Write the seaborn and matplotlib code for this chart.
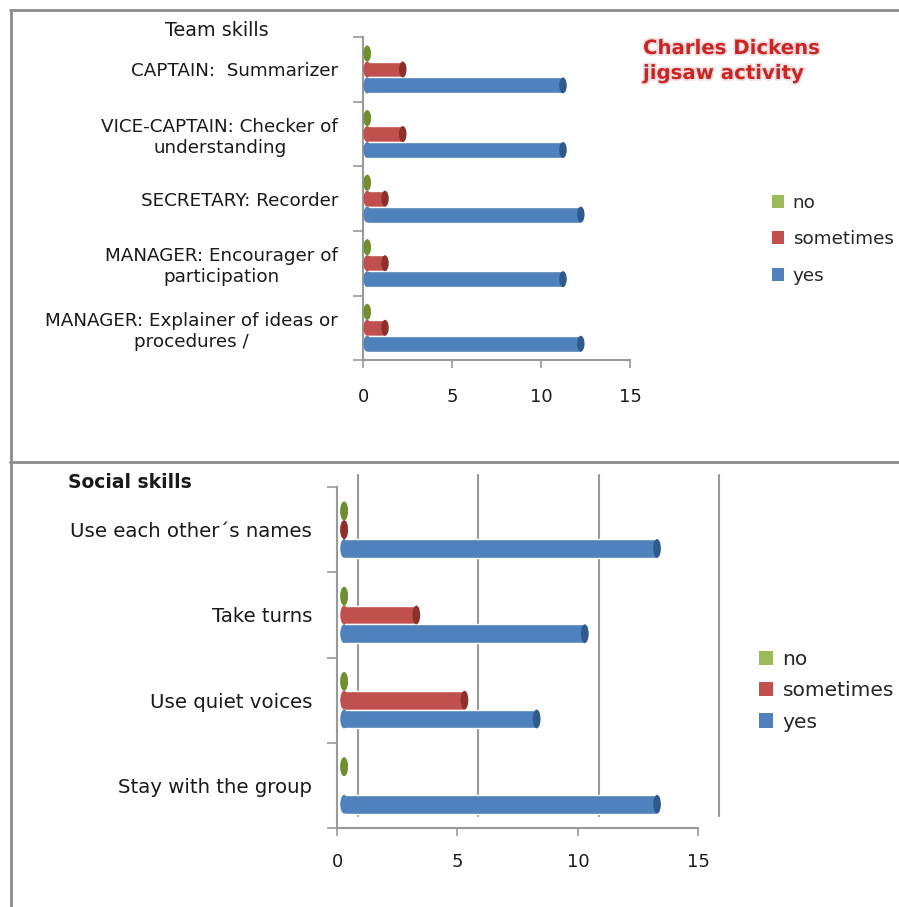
"""
Charles Dickens jigsaw activity - team skills / social skills survey
"""

import matplotlib
matplotlib.use("Agg")
import matplotlib.pyplot as plt
import matplotlib.patheffects as pe
from matplotlib.colors import to_hex
from matplotlib.lines import Line2D
from matplotlib.patches import Ellipse, Patch
from matplotlib.transforms import ScaledTranslation
import seaborn as sns
import numpy as np
import pandas as pd

sns.set_style("white")
plt.rcParams['font.family'] = ['DejaVu Sans']

# ----- data -----
team_roles = [
    "CAPTAIN:  Summarizer",
    "VICE-CAPTAIN: Checker of\nunderstanding",
    "SECRETARY: Recorder",
    "MANAGER: Encourager of\nparticipation",
    "MANAGER: Explainer of ideas or\nprocedures /",
]
team_no = [0, 0, 0, 0, 0]
team_sometimes = [2, 2, 1, 1, 1]
team_yes = [11, 11, 12, 11, 12]

social_skills = [
    "Use each other\u00b4s names",
    "Take turns",
    "Use quiet voices",
    "Stay with the group",
]
social_no = [0, 0, 0, 0]
social_sometimes = [0, 3, 5, np.nan]
social_yes = [13, 10, 8, 13]

answers = ["no", "sometimes", "yes"]
palette = {"no": "#9BBB59", "sometimes": "#C0504D", "yes": "#4F81BD"}
cap_palette = {"#9bbb59": "#6F8F32", "#c0504d": "#8E2F2C", "#4f81bd": "#2E5A8E"}
axis_grey = "#9a9a9a"
text_col = "#1a1a1a"


def to_long(labels, no, sometimes, yes):
    rows = []
    for i, lab in enumerate(labels):
        for ans, vals in zip(answers, [no, sometimes, yes]):
            rows.append({"skill": lab, "answer": ans, "count": vals[i]})
    return pd.DataFrame(rows)


def add_caps(ax, cap_w, depth_px):
    # rounded ends so the bars read like the cylinders of the original,
    # pushed back a little like the 3-D depth of the source chart
    shift = ax.transData + ScaledTranslation(depth_px / 100, 0, fig.dpi_scale_trans)
    for bar in list(ax.patches):
        w = bar.get_width()
        if not np.isfinite(w):
            continue
        face = to_hex(bar.get_facecolor())
        y = bar.get_y() + bar.get_height() / 2
        h = bar.get_height()
        bar.set_transform(shift)
        bar.set_zorder(3)
        ax.add_patch(Ellipse((bar.get_x(), y), cap_w, h, facecolor=face,
                             edgecolor='none', zorder=3, transform=shift))
        ax.add_patch(Ellipse((bar.get_x() + w, y), cap_w, h,
                             facecolor=cap_palette.get(face, face),
                             edgecolor='none', zorder=4, transform=shift))


def style_axis(ax, labels, fontsize):
    n = len(labels)
    ax.set_xlim(0, 15)
    ax.set_xticks([0, 5, 10, 15])
    ax.set_ylim(n - 0.5, -0.5)
    ax.set_yticks(np.arange(-0.5, n, 1), minor=True)
    ax.tick_params(axis='y', which='major', length=0, pad=18,
                   labelsize=fontsize, labelcolor=text_col)
    ax.tick_params(axis='y', which='minor', length=7, left=True,
                   color=axis_grey, width=1.2)
    ax.tick_params(axis='x', length=6, bottom=True, color=axis_grey,
                   width=1.2, labelsize=13, labelcolor=text_col)
    for lbl in ax.get_yticklabels():
        lbl.set_multialignment('center')
    ax.set_xlabel('')
    ax.set_ylabel('')
    for side in ['top', 'right']:
        ax.spines[side].set_visible(False)
    for side in ['left', 'bottom']:
        ax.spines[side].set_color(axis_grey)
        ax.spines[side].set_linewidth(1.5)


legend_handles = [Patch(facecolor=palette[a], edgecolor='none', label=a) for a in answers]

fig = plt.figure(figsize=(8.99, 9.07), dpi=100)

# ===== Team skills =====
ax1 = fig.add_axes([0.404, 0.603, 0.297, 0.356])
team_df = to_long(team_roles, team_no, team_sometimes, team_yes)
sns.barplot(data=team_df, x='count', y='skill', hue='answer', hue_order=answers,
            order=team_roles, palette=palette, saturation=1, width=0.74,
            orient='h', legend=False, ax=ax1)
style_axis(ax1, team_roles, 13.2)
ax1.tick_params(axis='x', pad=14)
add_caps(ax1, 0.42, 4)

fig.legend(handles=legend_handles, loc='upper left',
           bbox_to_anchor=(755 / 899, 1 - 177 / 907), frameon=False,
           fontsize=13.2, handlelength=0.7, handleheight=0.7,
           handletextpad=0.45, labelspacing=1.02)

fig.text(217 / 899, 1 - 30 / 907, "Team skills", ha='center', va='center',
         fontsize=13.8, color=text_col)
fig.text(643 / 899, 1 - 39 / 907, "Charles Dickens\njigsaw activity",
         ha='left', va='top', fontsize=14.2, fontweight='bold', color='#CC2424',
         linespacing=1.4,
         path_effects=[pe.withStroke(linewidth=2.5, foreground='#f0dede')])

# ===== Social skills =====
ax2 = fig.add_axes([0.375, 0.087, 0.4016, 0.376])
social_df = to_long(social_skills, social_no, social_sometimes, social_yes)
sns.barplot(data=social_df, x='count', y='skill', hue='answer', hue_order=answers,
            order=social_skills, palette=palette, saturation=1, width=0.66,
            orient='h', legend=False, ax=ax2)
style_axis(ax2, social_skills, 14.2)
ax2.tick_params(axis='x', pad=12)
ax2.set_xticks([0, 5, 10, 15])
ax2.grid(axis='x', color=axis_grey, linewidth=1.5)
ax2.set_axisbelow(True)
# back-wall gridlines sit up and to the right of the front axis
for gl in ax2.get_xgridlines():
    gl.set_transform(gl.get_transform() + ScaledTranslation(0.21, 0.12, fig.dpi_scale_trans))
    gl.set_clip_on(False)
add_caps(ax2, 0.32, 7)

fig.legend(handles=legend_handles, loc='upper left',
           bbox_to_anchor=(741 / 899, 1 - 632 / 907), frameon=False,
           fontsize=14.6, handlelength=0.7, handleheight=0.7,
           handletextpad=0.45, labelspacing=0.6)

fig.text(68 / 899, 1 - 483 / 907, "Social skills", ha='left', va='center',
         fontsize=13.5, fontweight='bold', color=text_col)

# panel borders
border = dict(transform=fig.transFigure, color='#8c8c8c', linewidth=2)
fig.add_artist(Line2D([10 / 899, 1], [1 - 10 / 907] * 2, **border))
fig.add_artist(Line2D([11 / 899] * 2, [0, 1 - 10 / 907], **border))
fig.add_artist(Line2D([10 / 899, 1], [1 - 462 / 907] * 2, **border))

plt.savefig("out.png", dpi=100)
